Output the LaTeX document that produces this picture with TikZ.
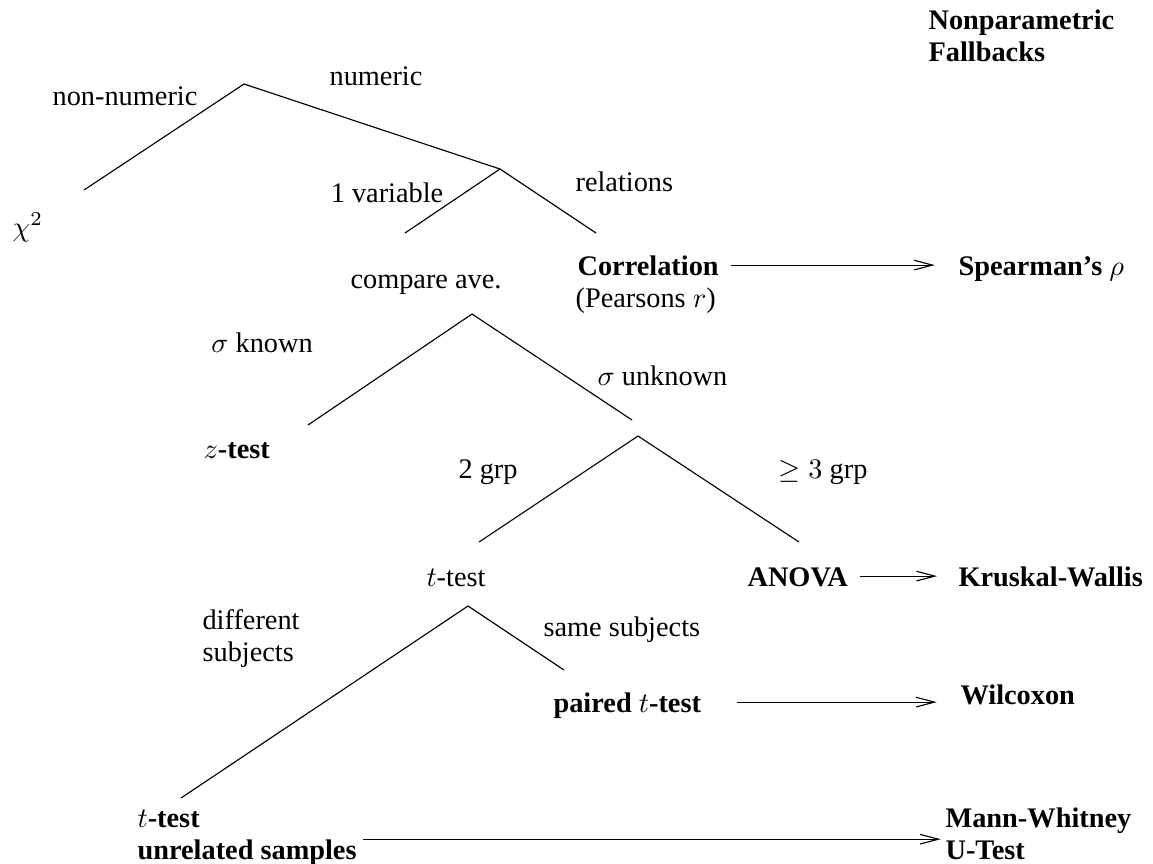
\documentclass[tikz,border=0pt]{standalone}
\usepackage[no-math]{fontspec}
\setmainfont{Liberation Serif}
\usetikzlibrary{arrows.meta}
\tikzset{>={Straight Barb[length=6.5pt,width=3.4pt]}}
\tikzset{
  lbl/.style={inner sep=0pt, anchor=base},
  lft/.style={inner sep=0pt, anchor=base west},
  res/.style={lft, font=\bfseries},
  fb/.style={->, shorten <=#1}
}

\begin{document}
\begin{tikzpicture}[x=0.353pt, y=-0.353pt]
    \useasboundingbox (0,0) rectangle (1153,863);
    % branch points of the tree
    \coordinate (top) at (244,84);
    \coordinate (chiend) at (84,190);
    \coordinate (num) at (500,169);
    \coordinate (varend) at (405,233);
    \coordinate (relend) at (596,233);
    \coordinate (cmp) at (472,314);
    \coordinate (knownend) at (308,425);
    \coordinate (unknownend) at (632,420);
    \coordinate (grp) at (638,436);
    \coordinate (twoend) at (479,542);
    \coordinate (threeend) at (799,542);
    \coordinate (tt) at (468,606);
    \coordinate (diffend) at (181,798);
    \coordinate (sameend) at (564,670);
    \draw (chiend) -- (top) -- (num);
    \draw (varend) -- (num) -- (relend);
    \draw (knownend) -- (cmp) -- (unknownend);
    \draw (twoend) -- (grp) -- (threeend);
    \draw (diffend) -- (tt) -- (sameend);
    % branch labels
    \node[lbl] (nonnum) at (125,105) {non-numeric};
    \node[lbl] (numeric) at (376,85) {numeric};
    \node[lbl] (onevar) at (387,202) {1 variable};
    \node[lft] (relations) at (575,191) {relations};
    \node[lbl] (compare) at (426,288) {compare ave.};
    \node[lbl] (known) at (262,352) {$\sigma$ known};
    \node[lft] (unknown) at (597,385) {$\sigma$ unknown};
    \node[lbl] (twogrp) at (488,478) {2 grp};
    \node[lft] (threegrp) at (778,478) {$\geq 3$ grp};
    \node[lft] (diff) at (202,629) {different};
    \node[lft] (subj) at (202,661) {subjects};
    \node[lft] (same) at (543,636) {same subjects};
    % outcomes
    \node[lft] (chi) at (12,236) {$\chi^2$};
    \node[res] (corr) at (577,275) {Correlation};
    \node[lft] (pearson) at (575,307) {(Pearsons $r$)};
    \node[lft] (ztest) at (203,458) {$z$\textbf{-test}};
    \node[lbl] (ttest) at (456,586) {$t$-test};
    \node[res] (anova) at (747,586) {ANOVA};
    \node[res] (paired) at (553,712) {paired $t$-test};
    \node[lft] (unpaired) at (137,827) {$t$\textbf{-test}};
    \node[res] (unrel) at (137,859) {unrelated samples};
    % nonparametric fallbacks
    \node[res] (fbhead) at (928,29) {Nonparametric};
    \node[res] (fbhead2) at (928,61) {Fallbacks};
    \node[res] (spear) at (958,275) {Spearman's $\rho$};
    \node[res] (kruskal) at (958,586) {Kruskal-Wallis};
    \node[res] (wilcox) at (960,704) {Wilcoxon};
    \node[res] (mann) at (945,827) {Mann-Whitney};
    \node[res] (utest) at (945,859) {U-Test};
    % arrows to the fallbacks
    \coordinate (corrarr) at ([yshift=3.5pt]corr.base east);
    \coordinate (anovaarr) at ([yshift=3.5pt]anova.base east);
    \coordinate (pairarr) at ([yshift=3.5pt]paired.base east);
    \coordinate (unrelarr) at ([yshift=-4.3pt]unrel.east |- unpaired.base);
    \draw[fb=4pt, shorten >=8.2pt] (corrarr) -- (corrarr -| spear.west);
    \draw[fb=4pt, shorten >=7.4pt] (anovaarr) -- (anovaarr -| kruskal.west);
    \draw[fb=12.4pt, shorten >=8.2pt] (pairarr) -- (pairarr -| wilcox.west);
    \draw[fb=2.2pt, shorten >=1.5pt] (unrelarr) -- (unrelarr -| mann.west);
\end{tikzpicture}
\end{document}
